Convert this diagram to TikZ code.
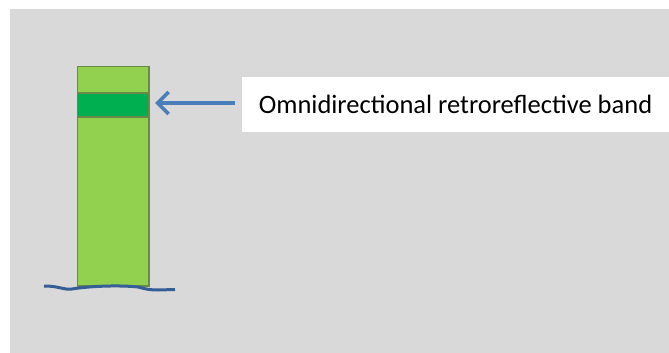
\documentclass[tikz,border=0pt]{standalone}
\usepackage{fontspec}
\setmainfont{Carlito}
\usetikzlibrary{arrows.meta}
\definecolor{bg}{HTML}{D9D9D9}
\definecolor{postgreen}{HTML}{92D050}
\definecolor{bandgreen}{HTML}{00B050}
\definecolor{postedge}{HTML}{6A8A48}
\definecolor{arrowblue}{HTML}{4A7EBB}
\definecolor{groundblue}{HTML}{355E96}
\tikzset{
  partbox/.style={draw=postedge, line width=1.2pt},
  callout/.style={fill=white, inner sep=0pt, minimum width=427pt, minimum height=55pt, font=\fontsize{26.5}{30}\selectfont, text=black},
  pointer/.style={draw=arrowblue, line width=3.6pt, -{Straight Barb[length=11pt, width=22pt, line width=3.6pt]}},
}
\begin{document}
\begin{tikzpicture}[x=1pt,y=-1pt]
\useasboundingbox (0,0) rectangle (669,353);
\fill[bg] (10,9) rectangle (669,353);
% post
\path[partbox, fill=postgreen] (77.5,66.5) rectangle (149,286);
\path[partbox, fill=bandgreen] (77.5,93) rectangle (149,117);
% ground
\draw[groundblue, line width=3pt] (44,286) .. controls (60,286) and (62,290) .. (72,289)
  .. controls (90,286) and (120,285) .. (138,287) .. controls (145,289) and (150,290) .. (158,290) -- (175,289.5);
% callout
\node[callout] (label) at (455.5,104.5) {Omnidirectional retroreflective band};
\coordinate (band) at (155,103);
\draw[pointer] (235,103) -- (band);
\end{tikzpicture}
\end{document}
